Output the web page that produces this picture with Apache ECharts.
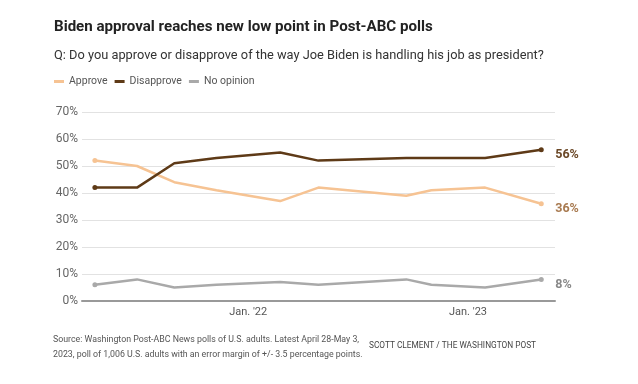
<!DOCTYPE html>
<html><head><meta charset="utf-8">
<script src="https://cdn.jsdelivr.net/npm/echarts@6/dist/echarts.min.js"></script>
<style>html,body{margin:0;padding:0;background:#fff}#c{width:638px;height:384px}</style>
</head><body><div id="c"></div>
<script>
const pollDates = ['2021-04-20','2021-06-29','2021-08-31','2021-11-09','2022-02-22','2022-04-26','2022-09-20','2022-11-01','2023-01-30','2023-05-01'];
const approve    = [52, 50, 44, 41, 37, 42, 39, 41, 42, 36];
const disapprove = [42, 42, 51, 53, 55, 52, 53, 53, 53, 56];
const noOpinion  = [6, 8, 5, 6, 7, 6, 8, 6, 5, 8];
const xTickValues = [12, 24];
const xTickLabels = ["Jan. '22", "Jan. '23"];
const yTicks = [0, 10, 20, 30, 40, 50, 60, 70];

function monthsSince2021(s){
  const [y,m,d] = s.split('-').map(Number);
  const dim = new Date(y, m, 0).getDate();
  return (y-2021)*12 + (m-1) + (d-1)/dim;
}
const xs = pollDates.map(monthsSince2021);
const FONT = 'Roboto, "Liberation Sans", sans-serif';
const last = pollDates.length - 1;

function mk(name, vals, color, labelColor){
  return {
    name, type: 'line', data: vals.map((v,i)=>[xs[i], v]),
    symbol: 'circle',
    symbolSize: (v, p) => (p.dataIndex === 0 || p.dataIndex === last) ? 5 : 0,
    showSymbol: true,
    itemStyle: { color },
    lineStyle: { color, width: 2.5 },
    emphasis: { disabled: true },
    endLabel: {
      show: true, formatter: p => p.value[1] + '%',
      color: labelColor, fontFamily: FONT, fontWeight: 'bold', fontSize: 12.5,
      offset: [6, 5]
    },
    z: name === 'Disapprove' ? 4 : 3
  };
}

const chart = echarts.init(document.getElementById('c'), null, {renderer: 'canvas'});
chart.setOption({
  animation: false,
  backgroundColor: '#fff',
  title: [
    { text: 'Biden approval reaches new low point in Post-ABC polls', left: 54, top: 20, padding: 0,
      textStyle: { fontFamily: FONT, fontSize: 15.1, fontWeight: 'bold', color: '#222' } },
    { text: 'Q: Do you approve or disapprove of the way Joe Biden is handling his job as president?', left: 54, top: 49, padding: 0,
      textStyle: { fontFamily: FONT, fontSize: 12.8, fontWeight: 'normal', color: '#333' } },
    { text: 'Source: Washington Post-ABC News polls of U.S. adults. Latest April 28-May 3,\n2023, poll of 1,006 U.S. adults with an error margin of +/- 3.5 percentage points.', left: 53, top: 332, padding: 0,
      textStyle: { fontFamily: FONT, fontSize: 8.8, fontWeight: 'normal', color: '#555', lineHeight: 15 } },
    { text: 'SCOTT CLEMENT / THE WASHINGTON POST', left: 369, top: 342, padding: 0,
      textStyle: { fontFamily: FONT, fontSize: 8.3, fontWeight: 'normal', color: '#444' } }
  ],
  legend: {
    left: 54, top: 76, padding: 0, icon: 'rect', itemWidth: 10, itemHeight: 3, itemGap: 7,
    textStyle: { fontFamily: FONT, fontSize: 10.5, color: '#555' },
    data: ['Approve', 'Disapprove', 'No opinion']
  },
  grid: { left: 82, right: 83, top: 112, bottom: 83, containLabel: false },
  xAxis: {
    type: 'value', min: 2.93, max: 28.75,
    axisLine: { show: true, lineStyle: { color: '#999', width: 2 } },
    axisTick: { show: false },
    splitLine: { show: false },
    axisLabel: {
      customValues: xTickValues,
      formatter: v => xTickLabels[xTickValues.indexOf(Math.round(v))] || '',
      fontFamily: FONT, fontSize: 11, color: '#555', margin: 6
    }
  },
  yAxis: {
    type: 'value', min: 0, max: 70, interval: 10,
    axisLine: { show: false }, axisTick: { show: false },
    splitLine: { lineStyle: { color: '#e2e2e2', width: 1 } },
    axisLabel: {
      formatter: v => yTicks.includes(v) ? v + '%' : '',
      fontFamily: FONT, fontSize: 12, color: '#666', margin: 4
    }
  },
  series: [
    mk('Approve', approve, '#f6c393', '#a87a50'),
    mk('Disapprove', disapprove, '#5e3a17', '#6b4827'),
    mk('No opinion', noOpinion, '#a9a9a9', '#888888')
  ]
});
</script></body></html>
